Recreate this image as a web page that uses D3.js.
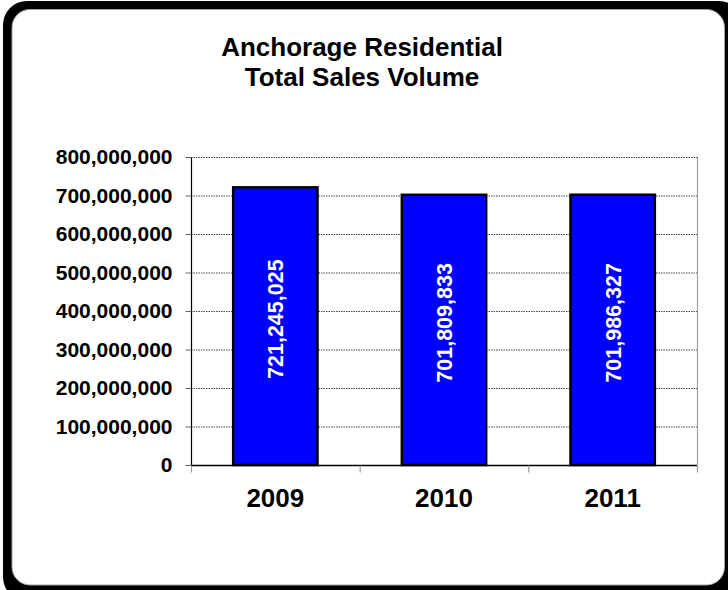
<!DOCTYPE html>
<html><head><meta charset="utf-8">
<script src="https://cdn.jsdelivr.net/npm/d3@7"></script>
<style>body{margin:0;background:#fff}svg{display:block}</style>
</head><body>
<script>
const categories = ["2009", "2010", "2011"];
const values = [721245025, 701809833, 701986327];
const yTicks = [0, 100000000, 200000000, 300000000, 400000000, 500000000, 600000000, 700000000, 800000000];
const titleLines = ["Anchorage Residential", "Total Sales Volume"];

(function () {
const W = 728, H = 590;
const svg = d3.select("body").append("svg").attr("width", W).attr("height", H);
const font = "'Liberation Sans', Arial, sans-serif";

// frame
svg.append("rect").attr("x", 3).attr("y", 1).attr("width", 740).attr("height", 600)
  .attr("rx", 24).attr("fill", "#000");
svg.append("rect").attr("x", 12).attr("y", 9.5).attr("width", 712.5).attr("height", 575.5)
  .attr("rx", 18).attr("fill", "#fff").attr("stroke", "#a0a0a0").attr("stroke-width", 1);

// title
svg.append("text").attr("font-family", font).attr("font-weight", "bold")
  .attr("font-size", 26).attr("text-anchor", "middle")
  .selectAll("tspan").data(titleLines).join("tspan")
  .attr("x", 362).attr("y", (d, i) => 56 + i * 30).text(d => d);

const pl = 191, pr = 697, pt = 157, pb = 465;
const x = d3.scaleBand().domain(categories).range([pl, pr]).paddingInner(0.5).paddingOuter(0.25);
const y = d3.scaleLinear().domain([0, 800000000]).range([pb, pt]);

// gridlines
svg.append("g").selectAll("line").data(yTicks.filter(d => d > 0)).join("line")
  .attr("x1", pl).attr("x2", pr).attr("y1", d => y(d) + 0.5).attr("y2", d => y(d) + 0.5)
  .attr("stroke", "#444").attr("stroke-width", 1).attr("stroke-dasharray", "1.5,1");

// right border of plot area
svg.append("line").attr("x1", pr + 0.5).attr("x2", pr + 0.5).attr("y1", pt).attr("y2", pb)
  .attr("stroke", "#a0a0a0").attr("stroke-width", 1.2);

// bars
svg.append("g").selectAll("rect").data(values).join("rect")
  .attr("x", (d, i) => x(categories[i])).attr("width", x.bandwidth())
  .attr("y", d => y(d)).attr("height", d => y(0) - y(d))
  .attr("fill", "#0000ff").attr("stroke", "#000").attr("stroke-width", 2.5);

// value labels
const fmt = d3.format(",");
svg.append("g").selectAll("text").data(values).join("text")
  .attr("transform", (d, i) => `translate(${x(categories[i]) + x.bandwidth() / 2 + 8},${(y(d) + y(0)) / 2 - 7}) rotate(-90)`)
  .attr("text-anchor", "middle").attr("font-family", font).attr("font-weight", "bold")
  .attr("font-size", 21.5).attr("fill", "#fff").text(d => fmt(d));

// y axis
const yAxis = d3.axisLeft(y).tickValues(yTicks).tickFormat(d3.format(",")).tickSize(6).tickPadding(13);
const gy = svg.append("g").attr("transform", `translate(${pl + 0.5},0)`).call(yAxis);
gy.select(".domain").attr("stroke", "#000").attr("stroke-width", 1.2).attr("d", `M0,${pt}V${pb}`);
gy.selectAll(".tick line").attr("stroke", "#666");
gy.selectAll(".tick text").attr("font-family", font).attr("font-weight", "bold")
  .attr("font-size", 21).attr("fill", "#000");

// x axis
const gx = svg.append("g").attr("transform", `translate(0,${pb + 0.5})`);
gx.append("line").attr("x1", pl).attr("x2", pr).attr("stroke", "#000").attr("stroke-width", 1.5);
const bounds = [pl, ...categories.map(c => x(c) + x.bandwidth() + x.step() * 0.25)];
gx.selectAll("line.tk").data(bounds).join("line").attr("class", "tk")
  .attr("x1", d => d + 0.5).attr("x2", d => d + 0.5).attr("y1", 0).attr("y2", 7)
  .attr("stroke", "#999").attr("stroke-width", 1.2);
gx.selectAll("text.yr").data(categories).join("text").attr("class", "yr")
  .attr("x", d => x(d) + x.bandwidth() / 2).attr("y", 41)
  .attr("text-anchor", "middle").attr("font-family", font).attr("font-weight", "bold")
  .attr("font-size", 26).text(d => d);
})();
</script>
</body></html>
